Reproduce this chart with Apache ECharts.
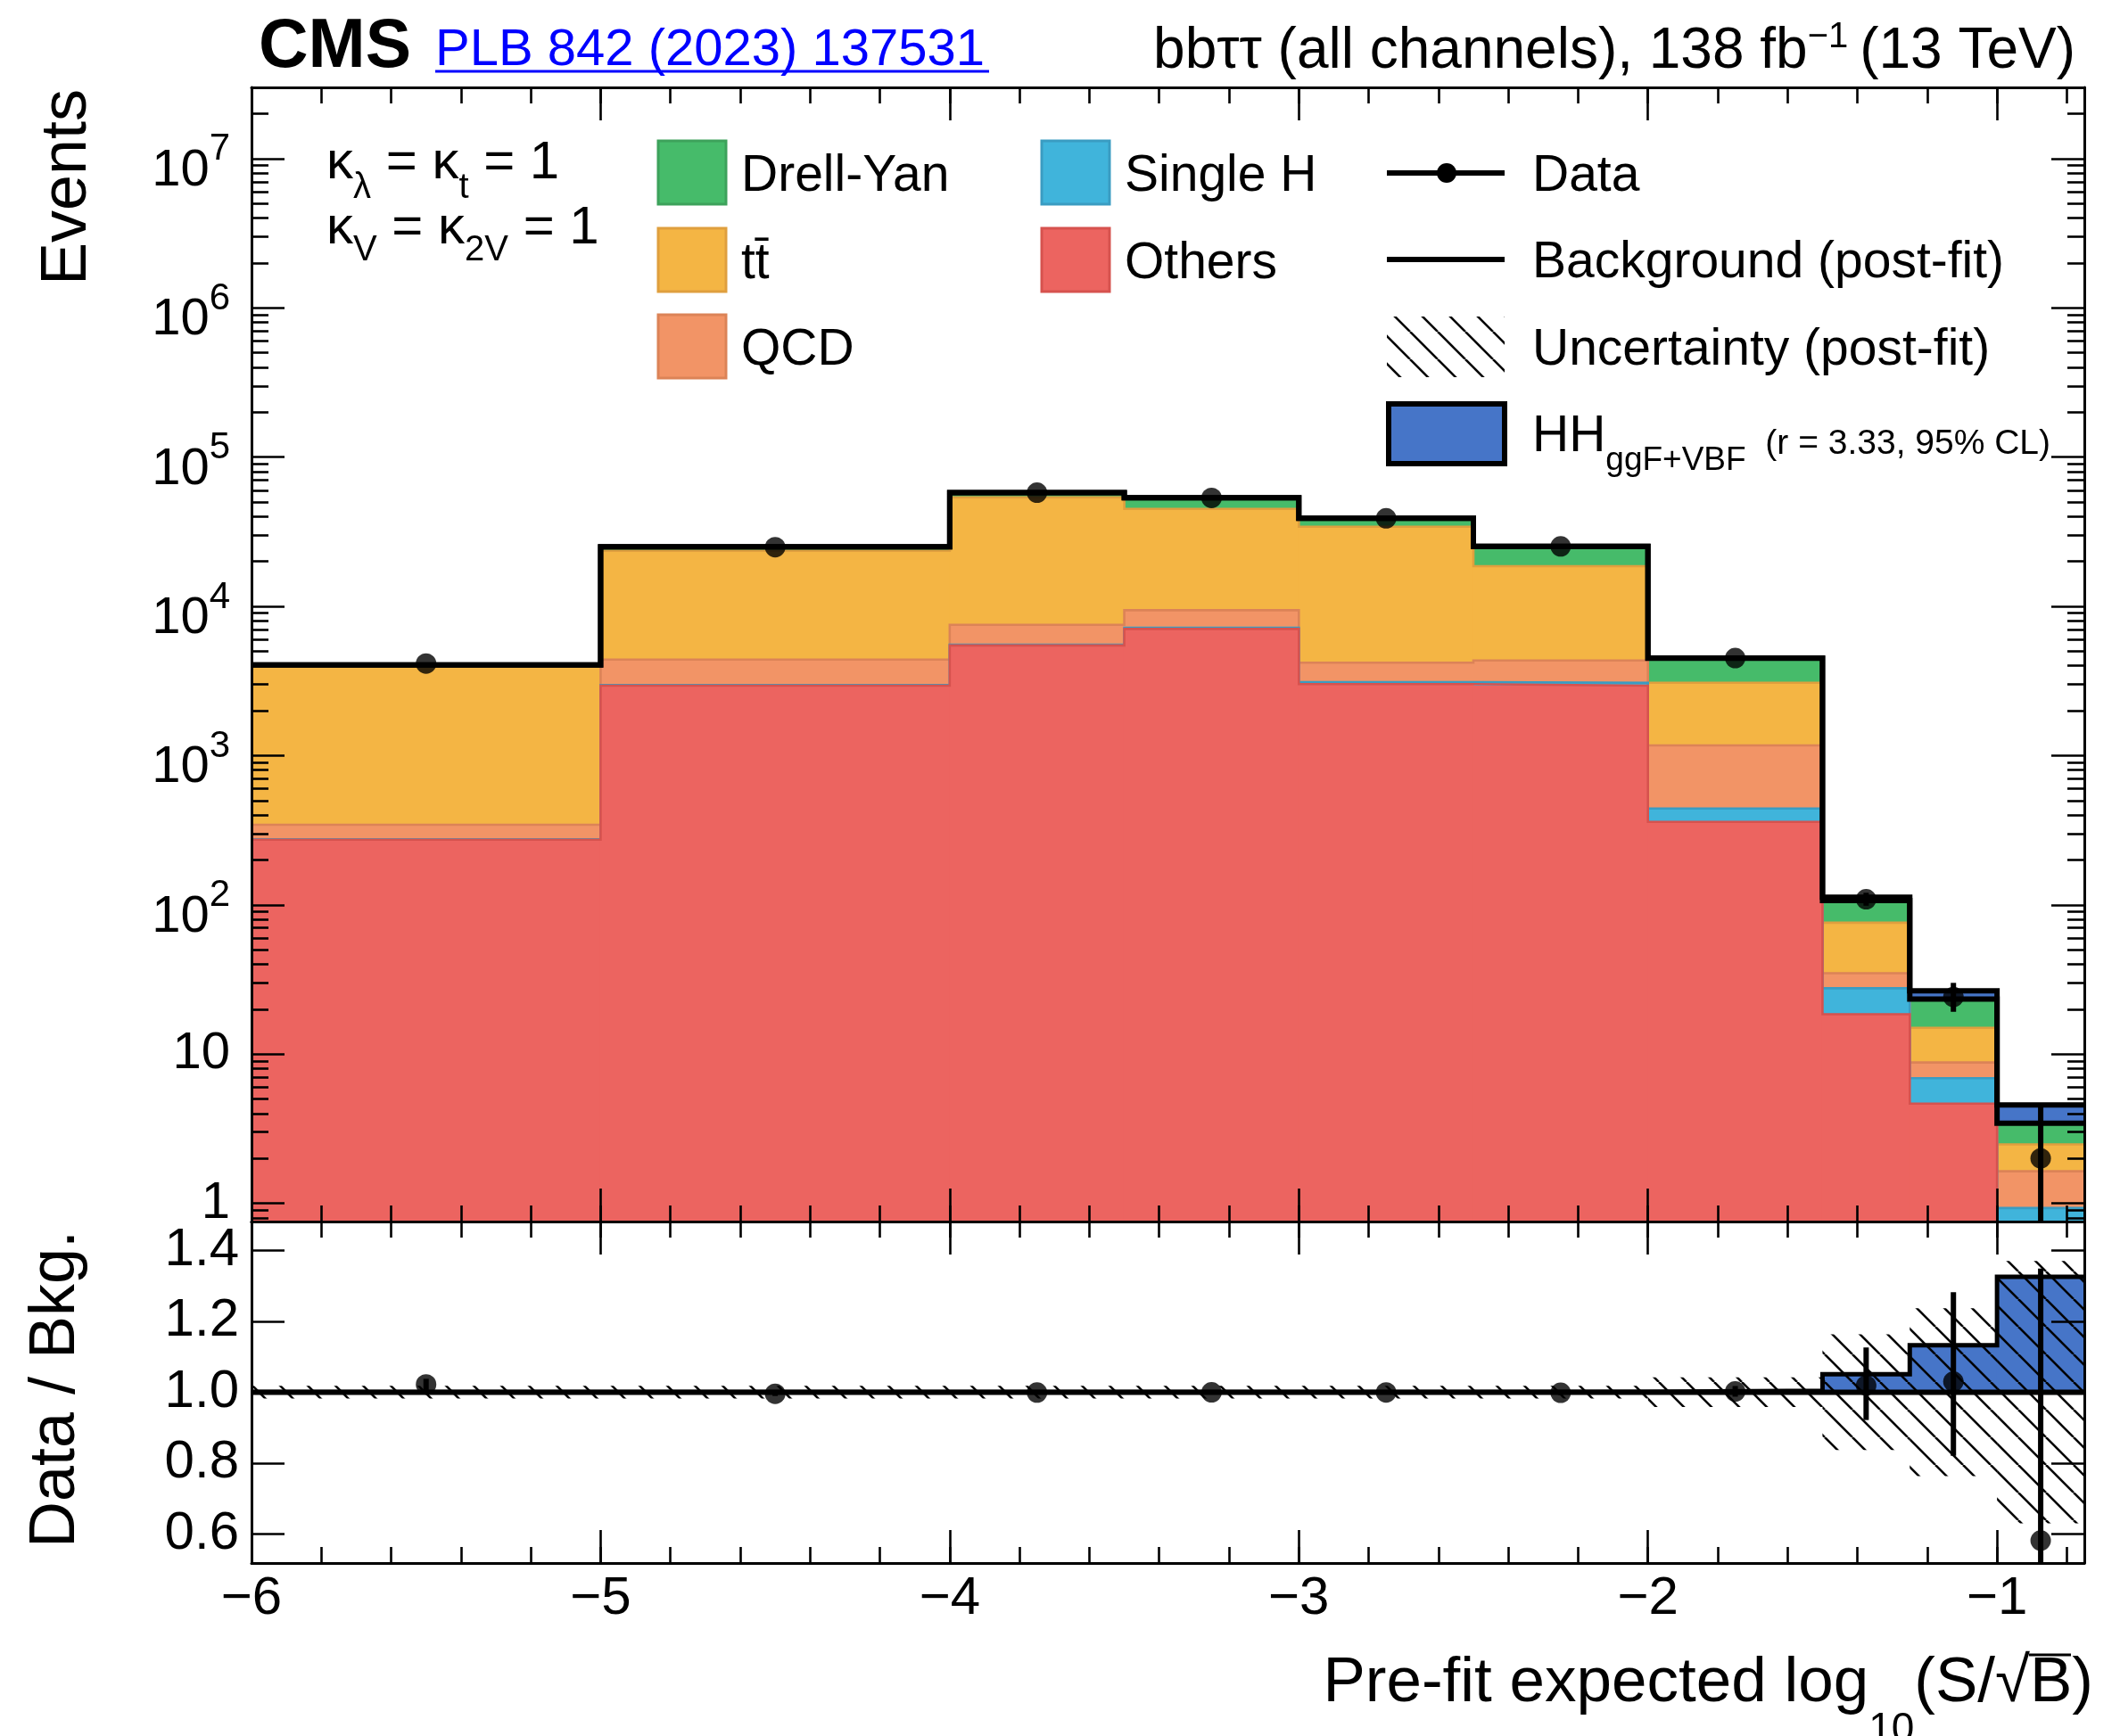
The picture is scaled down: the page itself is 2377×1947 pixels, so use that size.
<!DOCTYPE html>
<html>
<head>
<meta charset="utf-8">
<title>bbtautau S/sqrtB</title>
<script src="https://cdn.jsdelivr.net/npm/echarts@6.0.0/dist/echarts.min.js"></script>
<style>
html,body{margin:0;padding:0;background:#fff;}
#chart{width:2377px;height:1947px;}
</style>
</head>
<body>
<div id="chart"></div>
<script>
// ---------------- data ----------------
const binEdges   = [-6, -5, -4, -3.5, -3, -2.5, -2, -1.5, -1.25, -1, -0.75];
const others     = [273, 2940, 5470, 7060, 3010, 2940, 360, 18.5, 4.66, 0.5];
const singleH    = [2, 30, 60, 130, 97, 137, 82, 9.1, 2.23, 0.43];
const qcd        = [69, 1430, 1990, 2235, 1081, 1263, 728, 7.2, 1.89, 0.71];
const ttbar      = [3606, 19170, 46280, 35545, 29982, 14230, 1907, 41.1, 6.22, 0.84];
const drellYan   = [95, 1450, 3960, 8360, 4760, 6670, 1413, 31.1, 8.4, 0.96];
const signalHH   = [0.3, 3, 8, 12, 14, 18, 20, 5.4, 3.1, 1.12];
const dataCounts = [4134, 24910, 57700, 53300, 38900, 25200, 4500, 109, 24.1, 2];
const dataErrUp  = [64, 158, 241, 232, 198, 160, 68, 11.5, 5.9, 2.64];
const dataErrDown= [64, 158, 240, 231, 197, 159, 67, 10.4, 4.9, 1.29];
const bkgRelUnc  = [0.018, 0.018, 0.018, 0.018, 0.018, 0.018, 0.042, 0.163, 0.237, 0.37];

const xMajorTicks = [-6, -5, -4, -3, -2, -1];
const xTickLabels = ['\u22126', '\u22125', '\u22124', '\u22123', '\u22122', '\u22121'];
const yMainTicks = [1, 10, 100, 1e3, 1e4, 1e5, 1e6, 1e7];
const yMainTickLabels = ['1', '10', '10^2', '10^3', '10^4', '10^5', '10^6', '10^7'];
const yMinorTicks = [0.8, 0.9,
  2, 3, 4, 5, 6, 7, 8, 9,
  20, 30, 40, 50, 60, 70, 80, 90,
  200, 300, 400, 500, 600, 700, 800, 900,
  2e3, 3e3, 4e3, 5e3, 6e3, 7e3, 8e3, 9e3,
  2e4, 3e4, 4e4, 5e4, 6e4, 7e4, 8e4, 9e4,
  2e5, 3e5, 4e5, 5e5, 6e5, 7e5, 8e5, 9e5,
  2e6, 3e6, 4e6, 5e6, 6e6, 7e6, 8e6, 9e6,
  2e7];
const yRatioTicks = [0.6, 0.8, 1.0, 1.2, 1.4];
const yRatioTickLabels = ['0.6', '0.8', '1.0', '1.2', '1.4'];

// ---------------- styling constants ----------------
const FONT = '"Liberation Sans", Arial, Helvetica, sans-serif';
const Y_MIN = 0.755, Y_MAX = 3.0e7;
const R_MIN = 0.518, R_MAX = 1.4815;
const X_MIN = binEdges[0], X_MAX = binEdges[binEdges.length - 1];
const HH_BLUE = '#4675C8';

const layers = [
  { vals: others,   fill: '#EC6460', stroke: '#D6524E' },
  { vals: singleH,  fill: '#40B4DB', stroke: '#3A9CC2' },
  { vals: qcd,      fill: '#F29466', stroke: '#DC8357' },
  { vals: ttbar,    fill: '#F4B544', stroke: '#DF9F3E' },
  { vals: drellYan, fill: '#46BB6A', stroke: '#3DA25B' }
];

// ---------------- derived tables ----------------
const nBins = others.length;
const centers = binEdges.slice(0, nBins).map((e, i) => (e + binEdges[i + 1]) / 2);
const cum = new Array(nBins).fill(0);
const cumTops = layers.map(l => l.vals.map((v, i) => (cum[i] += v)));
const bkgTotal = cum.slice();
const sigTop = bkgTotal.map((b, i) => b + signalHH[i]);
const stepData = arr => arr.map((v, i) => [binEdges[i], v]).concat([[X_MAX, arr[nBins - 1]]]);

function makeHatch() {
  const s = 31, c = document.createElement('canvas');
  c.width = s; c.height = s;
  const g = c.getContext('2d');
  g.strokeStyle = '#000'; g.lineWidth = 2.6;
  [-s, 0, s].forEach(off => { g.beginPath(); g.moveTo(off, 0); g.lineTo(off + s, s); g.stroke(); });
  return c;
}
const hatchFill = { image: makeHatch(), repeat: 'repeat' };

// pad: small horizontal overlap so adjacent bins of one layer show no anti-alias seam
function rectRender(fill, pad) {
  const p = pad || 0;
  return function (params, api) {
    const p0 = api.coord([api.value(0), api.value(2)]);
    const p1 = api.coord([api.value(1), api.value(3)]);
    return { type: 'rect', shape: { x: p0[0] - p, y: Math.min(p0[1], p1[1]), width: p1[0] - p0[0] + 2 * p, height: Math.abs(p0[1] - p1[1]) }, style: { fill: fill } };
  };
}
function errRender(lo, lw) {
  return function (params, api) {
    const x = api.value(0);
    const a = api.coord([x, Math.max(api.value(1), lo)]);
    const b = api.coord([x, api.value(2)]);
    return { type: 'line', shape: { x1: a[0], y1: a[1], x2: b[0], y2: b[1] }, style: { stroke: '#000', lineWidth: lw } };
  };
}

// ---------------- axes ----------------
const LS = { color: '#000', width: 3 };
const TS = { color: '#000', width: 2.6 };
function xAxesFor(grid, withLabels) {
  const base = { type: 'value', gridIndex: grid, min: X_MIN, max: X_MAX, splitLine: { show: false }, z: 10, silent: true };
  const lab = withLabels ? {
    show: true, margin: 10, fontSize: 60, fontFamily: FONT, color: '#000',
    formatter: v => { const k = xMajorTicks.findIndex(t => Math.abs(t - v) < 1e-6); return k < 0 ? '' : xTickLabels[k]; }
  } : { show: false };
  return [
    Object.assign({}, base, { position: 'bottom', interval: 1, axisLine: { show: true, onZero: false, lineStyle: LS }, axisTick: { show: true, inside: true, length: 37, lineStyle: TS }, axisLabel: lab }),
    Object.assign({}, base, { position: 'bottom', interval: 0.2, axisLine: { show: false, onZero: false }, axisTick: { show: true, inside: true, length: 18, lineStyle: TS }, axisLabel: { show: false } }),
    Object.assign({}, base, { position: 'top', interval: 1, axisLine: { show: true, onZero: false, lineStyle: LS }, axisTick: { show: true, inside: true, length: 37, lineStyle: TS }, axisLabel: { show: false } }),
    Object.assign({}, base, { position: 'top', interval: 0.2, axisLine: { show: false, onZero: false }, axisTick: { show: true, inside: true, length: 18, lineStyle: TS }, axisLabel: { show: false } })
  ];
}
const logBase = { type: 'log', logBase: 10, gridIndex: 0, min: Y_MIN, max: Y_MAX, splitLine: { show: false }, minorTick: { show: false }, z: 10, silent: true };
const mainLabel = {
  show: true, margin: 24, customValues: yMainTicks,
  formatter: v => {
    let k = yMainTicks.findIndex(t => Math.abs(t - v) / t < 1e-6);
    if (k < 0) return '';
    const s = yMainTickLabels[k].split('^');
    return s.length > 1 ? '{b|' + s[0] + '}{s|' + s[1] + '}' : '{p|' + s[0] + '}';
  },
  rich: {
    p: { fontSize: 58, fontFamily: FONT, color: '#000' },
    b: { fontSize: 58, padding: [28, 0, 0, 0], fontFamily: FONT, color: '#000' },
    s: { fontSize: 42, padding: [0, 0, 20, 0], fontFamily: FONT, color: '#000' }
  }
};
const yAxes = [
  Object.assign({}, logBase, { position: 'left', axisLine: { show: true, onZero: false, lineStyle: LS }, axisTick: { show: true, inside: true, length: 37, customValues: yMainTicks, lineStyle: TS }, axisLabel: mainLabel }),
  Object.assign({}, logBase, { position: 'left', axisLine: { show: false, onZero: false }, axisTick: { show: true, inside: true, length: 19, customValues: yMinorTicks, lineStyle: TS }, axisLabel: { show: false } }),
  Object.assign({}, logBase, { position: 'right', axisLine: { show: true, onZero: false, lineStyle: LS }, axisTick: { show: true, inside: true, length: 37, customValues: yMainTicks, lineStyle: TS }, axisLabel: { show: false } }),
  Object.assign({}, logBase, { position: 'right', axisLine: { show: false, onZero: false }, axisTick: { show: true, inside: true, length: 19, customValues: yMinorTicks, lineStyle: TS }, axisLabel: { show: false } }),
  { type: 'value', gridIndex: 1, position: 'left', min: R_MIN, max: R_MAX, splitLine: { show: false }, z: 10, silent: true,
    axisLine: { show: true, onZero: false, lineStyle: LS }, axisTick: { show: true, inside: true, length: 37, customValues: yRatioTicks, lineStyle: TS },
    axisLabel: { show: true, margin: 14, customValues: yRatioTicks, fontSize: 60, fontFamily: FONT, color: '#000',
      formatter: v => { const k = yRatioTicks.findIndex(t => Math.abs(t - v) < 1e-6); return k < 0 ? '' : yRatioTickLabels[k]; } } },
  { type: 'value', gridIndex: 1, position: 'right', min: R_MIN, max: R_MAX, splitLine: { show: false }, z: 10, silent: true,
    axisLine: { show: true, onZero: false, lineStyle: LS }, axisTick: { show: true, inside: true, length: 37, customValues: yRatioTicks, lineStyle: TS },
    axisLabel: { show: false } }
];

// ---------------- series ----------------
const series = [];
// stacked backgrounds: each cumulative histogram filled from the axis floor, drawn top-of-stack first
for (let k = layers.length - 1; k >= 0; k--) {
  const l = layers[k], zz = 1 + (layers.length - 1 - k) * 0.1;
  series.push({
    type: 'custom', xAxisIndex: 0, yAxisIndex: 0, z: zz, silent: true,
    data: cumTops[k].map((t, i) => [binEdges[i], binEdges[i + 1], Y_MIN, Math.max(t, Y_MIN)]), encode: { x: [0, 1], y: [2, 3] },
    renderItem: rectRender(l.fill, 0.6)
  });
  series.push({ type: 'line', xAxisIndex: 0, yAxisIndex: 0, z: zz + 0.05, silent: true, step: 'end', symbol: 'none',
    data: stepData(cumTops[k]), lineStyle: { color: l.stroke, width: 2.6, join: 'miter', cap: 'butt' } });
}
series.push({
  type: 'custom', xAxisIndex: 0, yAxisIndex: 0, z: 2, silent: true,
  data: bkgTotal.map((b, i) => [binEdges[i], binEdges[i + 1], b, sigTop[i]]), encode: { x: [0, 1], y: [2, 3] },
  renderItem: rectRender(HH_BLUE)
});
series.push({ type: 'line', xAxisIndex: 0, yAxisIndex: 0, z: 3, silent: true, step: 'end', symbol: 'none',
  data: stepData(sigTop), lineStyle: { color: '#000', width: 6, join: 'miter', cap: 'butt' } });
series.push({ type: 'line', xAxisIndex: 0, yAxisIndex: 0, z: 4, silent: true, step: 'end', symbol: 'none',
  data: stepData(bkgTotal), lineStyle: { color: '#000', width: 6, join: 'miter', cap: 'butt' } });
series.push({
  type: 'custom', xAxisIndex: 0, yAxisIndex: 0, z: 5, silent: true,
  data: dataCounts.map((v, i) => [centers[i], v - dataErrDown[i], v + dataErrUp[i]]), encode: { x: 0, y: [1, 2] },
  renderItem: errRender(Y_MIN, 6)
});
series.push({ type: 'scatter', xAxisIndex: 0, yAxisIndex: 0, z: 6, silent: true, symbol: 'circle', symbolSize: 23,
  data: dataCounts.map((v, i) => [centers[i], v]), itemStyle: { color: '#000' } });

// ratio panel
const ratioSig = sigTop.map((t, i) => t / bkgTotal[i]);
series.push({
  type: 'custom', xAxisIndex: 4, yAxisIndex: 4, z: 1, silent: true,
  data: ratioSig.map((r, i) => [binEdges[i], binEdges[i + 1], 1, r]), encode: { x: [0, 1], y: [2, 3] },
  renderItem: rectRender(HH_BLUE, 0.6)
});
series.push({ type: 'line', xAxisIndex: 4, yAxisIndex: 4, z: 2, silent: true, step: 'end', symbol: 'none',
  data: stepData(ratioSig), lineStyle: { color: '#000', width: 5, join: 'miter', cap: 'butt' } });
series.push({
  type: 'custom', xAxisIndex: 4, yAxisIndex: 4, z: 3, silent: true,
  data: bkgRelUnc.map((u, i) => [binEdges[i], binEdges[i + 1], 1 - u, 1 + u]), encode: { x: [0, 1], y: [2, 3] },
  renderItem: rectRender(hatchFill)
});
series.push({ type: 'line', xAxisIndex: 4, yAxisIndex: 4, z: 4, silent: true, symbol: 'none',
  data: [[X_MIN, 1], [X_MAX, 1]], lineStyle: { color: '#000', width: 6 } });
series.push({
  type: 'custom', xAxisIndex: 4, yAxisIndex: 4, z: 5, silent: true,
  data: dataCounts.map((v, i) => [centers[i], (v - dataErrDown[i]) / bkgTotal[i], (v + dataErrUp[i]) / bkgTotal[i]]), encode: { x: 0, y: [1, 2] },
  renderItem: errRender(R_MIN, 6)
});
series.push({ type: 'scatter', xAxisIndex: 4, yAxisIndex: 4, z: 6, silent: true, symbol: 'circle', symbolSize: 23,
  data: dataCounts.map((v, i) => [centers[i], v / bkgTotal[i]]), itemStyle: { color: '#000' } });

// ---------------- texts and legend (graphic) ----------------
const T = (x, y, text, size, opts) => Object.assign({ type: 'text', x: x, y: y, z: 20, silent: true,
  style: Object.assign({ text: text, fontSize: size, fontFamily: FONT, fill: '#000', align: 'left', verticalAlign: 'middle' }, (opts && opts.style) || {}) },
  opts && opts.el || {});
// shift > 0 lowers the token (subscript), shift < 0 raises it (superscript)
const richPart = (size, shift) => {
  const o = { fontSize: size, fontFamily: FONT, fill: '#000' };
  if (shift > 0) o.padding = [2 * shift, 0, 0, 0];
  if (shift < 0) o.padding = [0, 0, -2 * shift, 0];
  return o;
};

const graphics = [
  T(290, 54, 'CMS', 77, { style: { fontWeight: 'bold' } }),
  T(488, 57, 'PLB 842 (2023) 137531', 58, { style: { fill: '#0000FF' } }),
  { type: 'line', z: 20, silent: true, shape: { x1: 488, y1: 80, x2: 1109, y2: 80 }, style: { stroke: '#0000FF', lineWidth: 3 } },
  T(2327, 58, '{a|bb\u03c4\u03c4 (all channels), 138 fb}{s|\u22121}{a|\u2009(13 TeV)}', 64, { style: { align: 'right',
    rich: { a: richPart(64, 0), s: richPart(40, -16) } } }),
  T(366, 183, '{k|\u03ba}{s|\u03bb}{k| = \u03ba}{s|t}{k| = 1}', 60, { style: { rich: { k: richPart(60, 0), s: richPart(40, 28) } } }),
  T(366, 256, '{k|\u03ba}{s|V}{k| = \u03ba}{s|2V}{k| = 1}', 60, { style: { rich: { k: richPart(60, 0), s: richPart(40, 25) } } }),
  // axis titles
  T(76, 100, 'Events', 72, { style: { align: 'right' }, el: { rotation: Math.PI / 2 } }),
  T(63, 1558, 'Data / Bkg.', 72, { style: { align: 'center' }, el: { rotation: Math.PI / 2 } }),
  T(2347, 1888, '{a|Pre-fit expected log}{s|10}{a|(S/\u221aB)}', 71, { style: { align: 'right',
    rich: { a: richPart(71, 0), s: richPart(46, 52) } } }),
  { type: 'line', z: 20, silent: true, shape: { x1: 2275, y1: 1856, x2: 2322, y2: 1856 }, style: { stroke: '#000', lineWidth: 3 } }
];
// legend boxes
const boxItems = [
  [738, 158, layers[4], 'Drell-Yan'],
  [738, 256, layers[3], 'tt\u0304'],
  [738, 353, layers[2], 'QCD'],
  [1168, 158, layers[1], 'Single H'],
  [1168, 256, layers[0], 'Others']
];
boxItems.forEach(b => {
  graphics.push({ type: 'rect', z: 20, silent: true, shape: { x: b[0], y: b[1], width: 76, height: 71 }, style: { fill: b[2].fill, stroke: b[2].stroke, lineWidth: 3 } });
  graphics.push(T(b[0] + 93, b[1] + 40, b[3], 57));
});
graphics.push({ type: 'line', z: 20, silent: true, shape: { x1: 1555, y1: 194, x2: 1687, y2: 194 }, style: { stroke: '#000', lineWidth: 6 } });
graphics.push({ type: 'circle', z: 21, silent: true, shape: { cx: 1622, cy: 194, r: 11 }, style: { fill: '#000' } });
graphics.push(T(1718, 198, 'Data', 57));
graphics.push({ type: 'line', z: 20, silent: true, shape: { x1: 1555, y1: 291, x2: 1687, y2: 291 }, style: { stroke: '#000', lineWidth: 6 } });
graphics.push(T(1718, 295, 'Background (post-fit)', 57));
graphics.push({ type: 'rect', z: 20, silent: true, shape: { x: 1555, y: 355, width: 132, height: 68 }, style: { fill: hatchFill } });
graphics.push(T(1718, 393, 'Uncertainty (post-fit)', 57));
graphics.push({ type: 'rect', z: 20, silent: true, shape: { x: 1557, y: 453, width: 130, height: 67 }, style: { fill: HH_BLUE, stroke: '#000', lineWidth: 6 } });
graphics.push(T(1718, 490, '{a|HH}{s|ggF+VBF}{r|  (r = 3.33, 95% CL)}', 57, { style: {
  rich: { a: richPart(57, 0), s: richPart(37, 27), r: richPart(39, 8) } } }));

// ---------------- chart ----------------
const chart = echarts.init(document.getElementById('chart'), null, { renderer: 'canvas', devicePixelRatio: 1 });
chart.setOption({
  backgroundColor: '#fff',
  animation: false,
  grid: [
    { left: 282, top: 98, width: 2055, height: 1272, containLabel: false, outerBoundsMode: 'none' },
    { left: 282, top: 1370, width: 2055, height: 383, containLabel: false, outerBoundsMode: 'none' }
  ],
  xAxis: xAxesFor(0, false).concat(xAxesFor(1, true)),
  yAxis: yAxes,
  series: series,
  graphic: { elements: graphics }
});
</script>
</body>
</html>
